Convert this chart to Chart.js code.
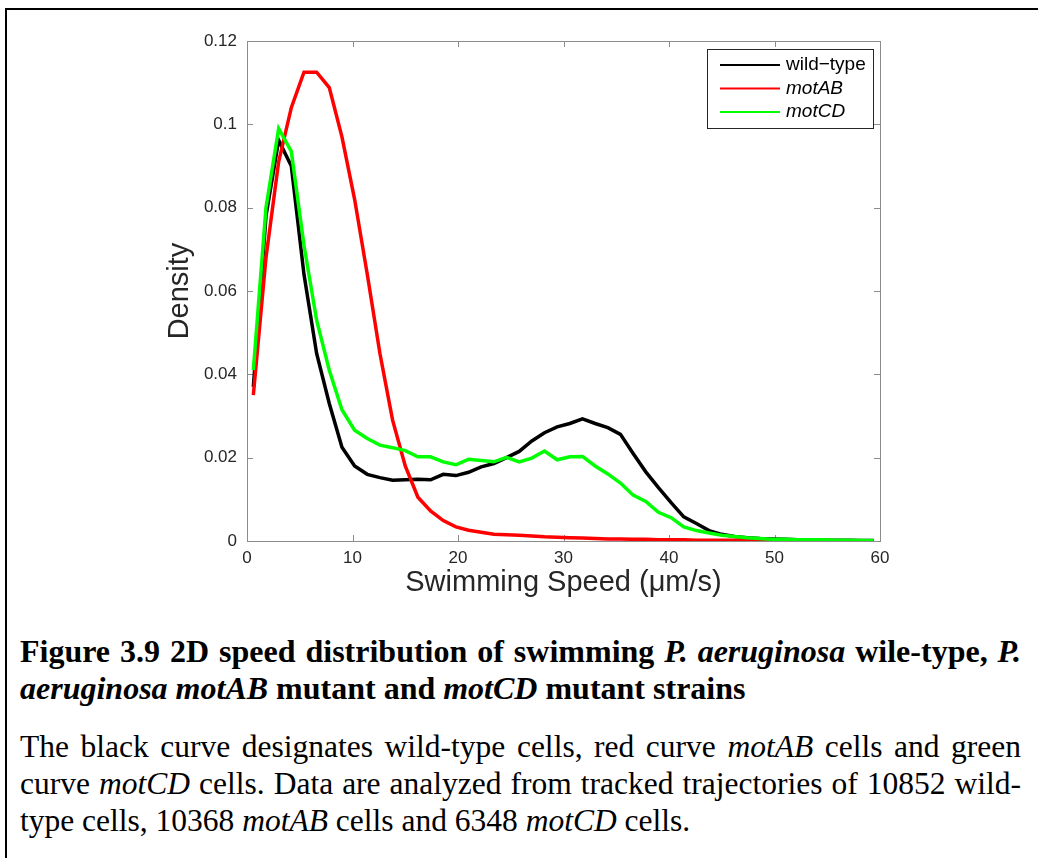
<!DOCTYPE html>
<html>
<head>
<meta charset="utf-8">
<script src="https://cdn.jsdelivr.net/npm/chart.js@4.4.1/dist/chart.umd.min.js"></script>
<style>
  body { margin: 0; width: 1038px; height: 858px; position: relative; background: #fff; overflow: hidden; }
  #frame { position: absolute; left: 5px; top: 8px; width: 1100px; height: 900px; border-top: 2px solid #000; border-left: 2px solid #000; }
  #chartWrap { position: absolute; left: 0; top: 0; width: 1038px; height: 620px; }
  #caption { position: absolute; left: 20px; width: 1001px; top: 633px; font-family: "Liberation Serif", "Times New Roman", serif; font-size: 32px; line-height: 37px; color: #000; }
  #caption .p { font-size: 31.5px; }
  .j { text-align: justify; text-align-last: justify; }
  .b { font-weight: bold; }
  .gap { height: 21px; }
</style>
</head>
<body>
<div id="frame"></div>
<div id="chartWrap"><canvas id="myChart" width="1038" height="620"></canvas></div>
<div id="caption">
  <div class="b j">Figure 3.9 2D speed distribution of swimming <i>P. aeruginosa</i> wile-type, <i>P.</i></div>
  <div class="b"><i>aeruginosa motAB</i> mutant and <i>motCD</i> mutant strains</div>
  <div class="gap"></div>
  <div class="p j">The black curve designates wild-type cells, red curve <i>motAB</i> cells and green</div>
  <div class="p j">curve <i>motCD</i> cells. Data are analyzed from tracked trajectories of 10852 wild-</div>
  <div class="p">type cells, 10368 <i>motAB</i> cells and 6348 <i>motCD</i> cells.</div>
</div>
<script>
// swimming speed bins (um/s)
var speeds = [0.6, 1.8, 3.0, 4.2, 5.4, 6.6, 7.8, 9.0, 10.2, 11.4, 12.6, 13.8, 15.0, 16.2, 17.4,
  18.6, 19.8, 21.0, 22.2, 23.4, 24.6, 25.8, 27.0, 28.2, 29.4, 30.6, 31.8, 33.0, 34.2, 35.4,
  36.6, 37.8, 39.0, 40.2, 41.4, 42.6, 43.8, 45.0, 46.2, 47.4, 48.6, 49.8, 51.0, 52.2, 53.4,
  54.6, 55.8, 57.0, 58.2, 59.4];

var wildType = [0.037, 0.078, 0.0962, 0.090, 0.064, 0.045, 0.033, 0.0225, 0.018, 0.016, 0.0152, 0.0146, 0.0147, 0.0148, 0.0147,
  0.016, 0.0157, 0.0165, 0.0178, 0.0186, 0.020, 0.0215, 0.024, 0.026, 0.0274, 0.0282, 0.0293, 0.0282, 0.0272, 0.0256,
  0.021, 0.0166, 0.0128, 0.0092, 0.0058, 0.0042, 0.0025, 0.0016, 0.0011, 0.0008, 0.0006, 0.0005, 0.0004, 0.0003, 0.0003,
  0.0002, 0.0002, 0.0002, 0.0001, 0.0001];

var motAB = [0.035, 0.068, 0.091, 0.104, 0.1125, 0.1125, 0.1088, 0.097, 0.082, 0.064, 0.045, 0.029, 0.018, 0.0105, 0.0072,
  0.0049, 0.0034, 0.0026, 0.0021, 0.0016, 0.0015, 0.0014, 0.0012, 0.001, 0.0009, 0.0008, 0.0007, 0.0006, 0.0005, 0.0005,
  0.0004, 0.0004, 0.0003, 0.0003, 0.0003, 0.0002, 0.0002, 0.0002, 0.0002, 0.0001, 0.0001, 0.0001, 0.0001, 0.0001, 0.0001,
  0.0001, 0.0, 0.0, 0.0, 0.0];

var motCD = [0.041, 0.080, 0.099, 0.0935, 0.071, 0.053, 0.041, 0.0315, 0.0266, 0.0246, 0.023, 0.0224, 0.0217, 0.0202, 0.0202,
  0.019, 0.0183, 0.0196, 0.0193, 0.019, 0.0201, 0.019, 0.0199, 0.0216, 0.0195, 0.0202, 0.0203, 0.018, 0.0161, 0.0139,
  0.011, 0.0095, 0.0069, 0.0056, 0.0034, 0.0025, 0.0019, 0.0014, 0.0011, 0.0008, 0.0006, 0.0004, 0.0004, 0.0003, 0.0003,
  0.0003, 0.0002, 0.0002, 0.0001, 0.0001];

var seriesNames = ['wild\u2212type', 'motAB', 'motCD'];
var seriesColors = ['#000000', '#ff0000', '#00ff00'];
var xTicks = [0, 10, 20, 30, 40, 50, 60];
var yTicks = [0, 0.02, 0.04, 0.06, 0.08, 0.1, 0.12];

function toPoints(ys) {
    var pts = [];
    for (var i = 0; i < speeds.length; i++) {
        pts.push({ x: speeds[i], y: ys[i] });
    }
    return pts;
}

var axisColor = '#8c8c8c';
var textColor = '#262626';
var sans = '"Liberation Sans", Arial, sans-serif';

// box around the plot and inward ticks, like matlab
var boxPlugin = {
    id: 'boxPlugin',
    beforeDatasetsDraw: function (chart) {
        var ctx = chart.ctx, a = chart.chartArea, sx = chart.scales.x, sy = chart.scales.y;
        ctx.save();
        ctx.strokeStyle = axisColor;
        ctx.lineWidth = 1;
        ctx.strokeRect(Math.round(a.left) + 0.5, Math.round(a.top) + 0.5, Math.round(a.right - a.left), Math.round(a.bottom - a.top));
        ctx.beginPath();
        sx.ticks.forEach(function (t) {
            var px = Math.round(sx.getPixelForValue(t.value)) + 0.5;
            ctx.moveTo(px, a.bottom); ctx.lineTo(px, a.bottom - 6);
            ctx.moveTo(px, a.top); ctx.lineTo(px, a.top + 6);
        });
        sy.ticks.forEach(function (t) {
            var py = Math.round(sy.getPixelForValue(t.value)) + 0.5;
            ctx.moveTo(a.left, py); ctx.lineTo(a.left + 6, py);
            ctx.moveTo(a.right, py); ctx.lineTo(a.right - 6, py);
        });
        ctx.stroke();
        ctx.restore();
    },
    afterDraw: function (chart) {
        // legend box in the top right corner
        var ctx = chart.ctx, a = chart.chartArea;
        var w = 166, h = 79;
        var x0 = a.right - 7 - w, y0 = a.top + 8;
        ctx.save();
        ctx.fillStyle = '#fff';
        ctx.fillRect(x0, y0, w, h);
        ctx.strokeStyle = '#262626';
        ctx.lineWidth = 1;
        ctx.strokeRect(Math.round(x0) + 0.5, Math.round(y0) + 0.5, w, h);
        chart.data.datasets.forEach(function (ds, i) {
            var yy = y0 + 16 + i * 23.5;
            ctx.strokeStyle = ds.borderColor;
            ctx.lineWidth = 2;
            ctx.beginPath();
            ctx.moveTo(x0 + 13, yy); ctx.lineTo(x0 + 73, yy);
            ctx.stroke();
            ctx.fillStyle = '#000';
            ctx.font = (i > 0 ? 'italic ' : '') + '19px ' + sans;
            ctx.textBaseline = 'middle';
            ctx.fillText(ds.label, x0 + 79, yy);
        });
        ctx.restore();
    }
};

function createChart() {
    var ctx = document.getElementById('myChart').getContext('2d');
    var allY = [wildType, motAB, motCD];
    var datasets = [];
    for (var i = 0; i < 3; i++) {
        datasets.push({
            label: seriesNames[i],
            data: toPoints(allY[i]),
            borderColor: seriesColors[i],
            backgroundColor: seriesColors[i],
            borderWidth: 3.5,
            pointRadius: 0,
            tension: 0,
            fill: false,
            order: 3 - i
        });
    }
    new Chart(ctx, {
        type: 'line',
        data: { datasets: datasets },
        options: {
            responsive: false,
            animation: false,
            devicePixelRatio: 1,
            layout: { padding: { left: 0, top: 41, right: 158, bottom: 0 } },
            plugins: { legend: { display: false }, tooltip: { enabled: false } },
            scales: {
                x: {
                    type: 'linear',
                    min: 0, max: 60,
                    afterBuildTicks: function (s) { s.ticks = xTicks.map(function (v) { return { value: v }; }); },
                    afterFit: function (s) { s.height = 79; },
                    grid: { drawOnChartArea: false, drawTicks: false },
                    border: { display: true, color: axisColor },
                    ticks: { color: textColor, font: { family: sans, size: 17 }, padding: 7, maxRotation: 0 },
                    title: { display: true, text: 'Swimming Speed (\u03bcm/s)', color: textColor, font: { family: sans, size: 29 }, padding: { top: 0, bottom: 19.5 } }
                },
                y: {
                    min: 0, max: 0.12,
                    afterBuildTicks: function (s) { s.ticks = yTicks.map(function (v) { return { value: v }; }); },
                    afterFit: function (s) { s.width = 247; },
                    grid: { drawOnChartArea: false, drawTicks: false },
                    border: { display: true, color: axisColor },
                    ticks: {
                        color: textColor, font: { family: sans, size: 17 }, padding: 10,
                        callback: function (v) { return String(+v.toFixed(2)); }
                    },
                    title: { display: true, text: 'Density', color: textColor, font: { family: sans, size: 29 }, padding: { top: 162.5, bottom: 0 } }
                }
            }
        },
        plugins: [boxPlugin]
    });
}

createChart();
</script>
</body>
</html>
